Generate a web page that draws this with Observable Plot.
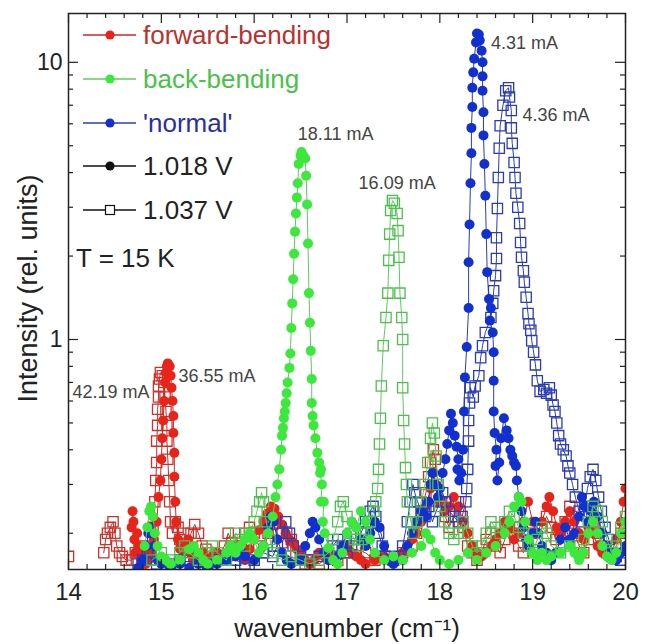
<!DOCTYPE html>
<html><head><meta charset="utf-8">
<script src="https://cdn.jsdelivr.net/npm/d3@7"></script>
<script src="https://cdn.jsdelivr.net/npm/@observablehq/plot@0.6"></script>
<style>body{margin:0;background:#fff;font-family:"Liberation Sans",Arial,sans-serif}</style>
</head><body><div id="chart"></div>
<script>
// forward-bending, 1.018 V (36.55 mA)
const fwd1018 = [[14.68,0.21],[14.69,0.24],[14.70,0.22],[14.71,0.19],[14.72,0.17],[14.74,0.2],[14.76,0.18],[14.78,0.16],[14.80,0.17],[14.83,0.155],[14.86,0.16],[14.89,0.17],[14.92,0.19],[14.95,0.22],[14.97,0.27],[14.99,0.31],[15.00,0.37],[15.01,0.44],[15.02,0.51],[15.03,0.60],[15.04,0.70],[15.05,0.76],[15.06,0.80],[15.07,0.82],[15.09,0.80],[15.10,0.74],[15.11,0.67],[15.12,0.60],[15.13,0.53],[15.13,0.46],[15.14,0.39],[15.14,0.32],[15.15,0.26],[15.16,0.22],[15.18,0.19],[15.2,0.176],[15.23,0.17],[15.26,0.18],[15.29,0.19],[15.31,0.17],[15.34,0.16],[15.37,0.17],[15.40,0.165],[15.45,0.17],[15.5,0.16],[15.55,0.165],[15.6,0.17],[15.65,0.16],[15.7,0.17],[15.75,0.165],[15.8,0.18],[15.85,0.17],[15.9,0.16],[15.95,0.175],[16.0,0.19],[16.05,0.205],[16.1,0.22],[16.14,0.235],[16.18,0.25],[16.22,0.245],[16.26,0.23],[16.3,0.215],[16.34,0.2],[16.38,0.19],[16.42,0.185],[16.46,0.175],[16.5,0.17],[16.55,0.16],[16.6,0.155],[16.65,0.16],[16.7,0.17],[16.75,0.165],[16.8,0.17],[16.85,0.16],[16.9,0.165],[16.95,0.17],[17.0,0.18],[17.05,0.17],[17.1,0.165],[17.15,0.16],[17.2,0.155],[17.3,0.16],[17.4,0.165],[17.5,0.16],[17.6,0.17],[17.7,0.19],[17.75,0.2],[17.8,0.22],[17.85,0.25],[17.9,0.29],[17.93,0.33],[17.96,0.3],[18.0,0.26],[18.05,0.24],[18.1,0.25],[18.15,0.27],[18.2,0.25],[18.25,0.22],[18.3,0.2],[18.35,0.18],[18.4,0.17],[18.45,0.165],[18.5,0.17],[18.55,0.18],[18.6,0.19],[18.65,0.2],[18.7,0.22],[18.75,0.21],[18.8,0.19],[18.85,0.2],[18.9,0.22],[18.95,0.26],[19.0,0.22],[19.05,0.2],[19.1,0.22],[19.15,0.25],[19.18,0.27],[19.22,0.24],[19.26,0.21],[19.3,0.2],[19.35,0.22],[19.4,0.24],[19.45,0.22],[19.5,0.2],[19.55,0.19],[19.6,0.21],[19.65,0.2],[19.7,0.18],[19.75,0.17],[19.8,0.18],[19.85,0.17],[19.9,0.19],[19.95,0.22],[19.98,0.26],[20.0,0.29]];
// forward-bending, 1.037 V (42.19 mA); null marks a gap in the trace
const fwd1037 = [[14.0,0.165],[14.2,null],[14.38,0.17],[14.4,0.19],[14.42,0.2],[14.45,0.21],[14.48,0.22],[14.5,0.2],[14.52,0.18],[14.55,0.17],[14.58,0.165],[14.62,0.16],[14.68,0.16],[14.72,0.17],[14.76,0.18],[14.8,0.17],[14.84,0.165],[14.88,0.18],[14.91,0.21],[14.93,0.26],[14.94,0.31],[14.95,0.36],[14.95,0.43],[14.96,0.49],[14.96,0.56],[14.97,0.62],[14.97,0.68],[14.98,0.72],[14.99,0.76],[15.01,0.74],[15.03,0.70],[15.04,0.62],[15.05,0.55],[15.06,0.49],[15.06,0.43],[15.07,0.37],[15.08,0.31],[15.09,0.26],[15.1,0.22],[15.12,0.2],[15.15,0.22],[15.18,0.21],[15.2,0.19],[15.24,0.2],[15.28,0.18],[15.32,0.2],[15.36,0.215],[15.4,0.2],[15.44,0.18],[15.48,0.175],[15.52,0.17],[15.56,0.16],[15.62,0.165],[15.68,0.18],[15.72,0.2],[15.76,0.185],[15.8,0.17],[15.86,0.18],[15.9,0.2],[15.95,0.21],[16.0,0.2],[16.05,0.18],[16.1,0.17],[16.15,0.2],[16.2,0.215],[16.25,0.2],[16.3,0.185],[16.35,0.2],[16.4,0.19],[16.45,0.17],[16.5,0.16],[16.55,0.155],[16.6,0.16],[16.7,0.155],[16.8,0.165],[16.9,0.16],[17.0,0.17],[17.1,0.175],[17.2,0.17],[17.3,0.16],[17.4,0.165],[17.5,0.16],[17.6,0.17],[17.7,0.18],[17.75,0.2],[17.8,0.24],[17.85,0.28],[17.88,0.32],[17.9,0.36],[17.93,0.4],[17.95,0.37],[17.98,0.3],[18.02,0.26],[18.06,0.23],[18.1,0.21],[18.15,0.23],[18.2,0.26],[18.22,0.24],[18.25,0.21],[18.3,0.18],[18.35,0.17],[18.4,0.16],[18.45,0.17],[18.5,0.19],[18.55,0.2],[18.6,0.18],[18.65,0.17],[18.7,0.19],[18.75,0.21],[18.8,0.2],[18.85,0.18],[18.9,0.17],[18.95,0.18],[19.0,0.2],[19.05,0.19],[19.1,0.21],[19.15,0.23],[19.2,0.21],[19.25,0.19],[19.3,0.2],[19.35,0.22],[19.4,0.25],[19.42,0.23],[19.45,0.2],[19.5,0.18],[19.55,0.17],[19.6,0.19],[19.65,0.22],[19.7,0.2],[19.75,0.18],[19.8,0.17],[19.85,0.165],[19.9,0.18],[19.95,0.2],[20.0,0.19]];
// back-bending, 1.018 V (18.11 mA)
const back1018 = [[14.82,0.18],[14.85,0.21],[14.87,0.24],[14.89,0.25],[14.91,0.23],[14.93,0.2],[14.96,0.18],[15.0,0.165],[15.05,0.16],[15.1,0.155],[15.2,0.16],[15.3,0.175],[15.35,0.18],[15.4,0.17],[15.45,0.16],[15.5,0.155],[15.6,0.16],[15.7,0.17],[15.75,0.18],[15.8,0.17],[15.85,0.18],[15.9,0.19],[15.95,0.2],[16.0,0.19],[16.05,0.17],[16.1,0.18],[16.15,0.2],[16.2,0.23],[16.23,0.27],[16.25,0.3],[16.27,0.34],[16.29,0.40],[16.3,0.45],[16.31,0.48],[16.32,0.52],[16.33,0.55],[16.34,0.59],[16.35,0.64],[16.36,0.70],[16.38,0.79],[16.39,0.89],[16.40,1.1],[16.41,1.35],[16.42,1.65],[16.43,2.04],[16.44,2.45],[16.45,2.85],[16.46,3.25],[16.47,3.66],[16.48,4.3],[16.5,4.6],[16.51,4.75],[16.53,4.6],[16.55,4.5],[16.56,3.9],[16.57,3.07],[16.58,2.22],[16.59,1.47],[16.6,1.15],[16.61,0.91],[16.62,0.72],[16.62,0.59],[16.63,0.53],[16.64,0.49],[16.66,0.44],[16.68,0.39],[16.7,0.36],[16.72,0.34],[16.71,0.33],[16.73,0.3],[16.72,0.26],[16.75,0.26],[16.74,0.22],[16.76,0.2],[16.8,0.177],[16.85,0.16],[16.9,0.155],[16.95,0.17],[17.0,0.2],[17.05,0.22],[17.1,0.21],[17.15,0.24],[17.2,0.22],[17.25,0.19],[17.3,0.17],[17.4,0.16],[17.5,0.165],[17.6,0.16],[17.7,0.17],[17.8,0.18],[17.85,0.2],[17.9,0.19],[17.95,0.17],[18.0,0.16],[18.1,0.155],[18.2,0.16],[18.3,0.17],[18.4,0.16],[18.5,0.17],[18.6,0.18],[18.7,0.2],[18.75,0.22],[18.8,0.25],[18.85,0.27],[18.88,0.26],[18.92,0.22],[18.96,0.19],[19.0,0.17],[19.05,0.16],[19.1,0.17],[19.15,0.16],[19.2,0.165],[19.3,0.17],[19.4,0.18],[19.45,0.17],[19.5,0.16],[19.55,0.17],[19.6,0.2],[19.65,0.22],[19.7,0.2],[19.75,0.18],[19.8,0.165],[19.85,0.16],[19.9,0.17],[19.95,0.2],[20.0,0.22]];
// back-bending, 1.037 V (16.09 mA)
const back1037 = [[14.9,0.16],[15.0,0.17],[15.1,0.16],[15.2,0.17],[15.25,0.18],[15.3,0.17],[15.4,0.16],[15.5,0.17],[15.55,0.18],[15.6,0.17],[15.7,0.16],[15.75,0.18],[15.8,0.2],[15.85,0.19],[15.9,0.18],[15.95,0.2],[16.0,0.22],[16.03,0.24],[16.06,0.26],[16.08,0.28],[16.1,0.26],[16.13,0.22],[16.17,0.19],[16.2,0.17],[16.3,0.16],[16.4,0.165],[16.5,0.16],[16.6,0.155],[16.7,0.16],[16.8,0.17],[16.85,0.19],[16.9,0.22],[16.93,0.25],[16.96,0.26],[17.0,0.23],[17.04,0.2],[17.08,0.19],[17.12,0.18],[17.16,0.19],[17.2,0.2],[17.25,0.22],[17.29,0.24],[17.31,0.26],[17.33,0.29],[17.34,0.34],[17.35,0.42],[17.36,0.52],[17.37,0.68],[17.39,0.95],[17.42,1.2],[17.44,1.47],[17.45,1.93],[17.46,2.4],[17.47,2.92],[17.49,3.17],[17.51,3.1],[17.54,2.85],[17.55,2.47],[17.56,1.98],[17.57,1.47],[17.59,1.2],[17.6,1.0],[17.6,0.67],[17.61,0.51],[17.62,0.42],[17.63,0.345],[17.64,0.3],[17.65,0.26],[17.69,0.22],[17.72,0.2],[17.76,0.22],[17.8,0.26],[17.84,0.3],[17.87,0.36],[17.9,0.44],[17.92,0.5],[17.94,0.46],[17.96,0.38],[17.98,0.3],[18.0,0.25],[18.05,0.22],[18.1,0.2],[18.15,0.19],[18.2,0.2],[18.25,0.22],[18.3,0.2],[18.35,0.18],[18.4,0.17],[18.45,0.18],[18.5,0.2],[18.55,0.22],[18.6,0.21],[18.65,0.2],[18.7,0.22],[18.75,0.24],[18.8,0.23],[18.85,0.21],[18.9,0.2],[18.95,0.18],[19.0,0.17],[19.05,0.19],[19.1,0.21],[19.15,0.2],[19.2,0.18],[19.3,0.17],[19.4,0.18],[19.5,0.17],[19.55,0.19],[19.6,0.22],[19.65,0.25],[19.7,0.24],[19.75,0.22],[19.8,0.19],[19.85,0.17],[19.9,0.18],[19.95,0.21],[20.0,0.23]];
// 'normal', 1.018 V (4.31 mA)
const norm1018 = [[14.75,0.15],[14.8,0.16],[14.84,0.18],[14.86,0.2],[14.88,0.21],[14.9,0.2],[14.93,0.18],[14.96,0.16],[15.0,0.155],[15.1,0.15],[15.2,0.155],[15.3,0.15],[15.4,0.155],[15.5,0.15],[15.6,0.155],[15.7,0.16],[15.8,0.165],[15.85,0.175],[15.9,0.165],[16.0,0.16],[16.1,0.18],[16.15,0.21],[16.18,0.23],[16.21,0.22],[16.25,0.19],[16.3,0.17],[16.35,0.16],[16.4,0.155],[16.5,0.16],[16.55,0.18],[16.6,0.2],[16.63,0.22],[16.66,0.21],[16.7,0.19],[16.75,0.17],[16.8,0.16],[16.9,0.165],[16.95,0.18],[17.0,0.2],[17.05,0.22],[17.1,0.21],[17.15,0.19],[17.2,0.18],[17.25,0.2],[17.3,0.22],[17.35,0.21],[17.4,0.18],[17.45,0.16],[17.5,0.155],[17.6,0.16],[17.65,0.18],[17.7,0.2],[17.75,0.22],[17.8,0.24],[17.85,0.23],[17.88,0.26],[17.9,0.3],[17.92,0.33],[17.95,0.3],[17.98,0.27],[18.0,0.29],[18.03,0.33],[18.06,0.37],[18.08,0.42],[18.1,0.47],[18.12,0.54],[18.14,0.5],[18.16,0.45],[18.18,0.41],[18.2,0.37],[18.19,0.34],[18.21,0.31],[18.23,0.33],[18.25,0.4],[18.26,0.55],[18.27,0.73],[18.29,0.94],[18.31,1.3],[18.31,1.9],[18.32,2.6],[18.33,3.66],[18.34,4.7],[18.34,5.8],[18.35,6.9],[18.35,8.1],[18.36,9.2],[18.37,10.3],[18.39,11.8],[18.40,12.7],[18.42,12.6],[18.43,12.0],[18.45,11.0],[18.46,10.0],[18.46,8.9],[18.46,7.9],[18.47,6.6],[18.47,5.45],[18.48,4.3],[18.49,3.3],[18.5,2.4],[18.51,1.75],[18.53,1.4],[18.55,1.3],[18.54,1.17],[18.57,1.06],[18.58,0.9],[18.58,0.71],[18.58,0.55],[18.59,0.46],[18.61,0.4],[18.6,0.35],[18.62,0.31],[18.64,0.36],[18.66,0.44],[18.69,0.52],[18.72,0.47],[18.74,0.44],[18.76,0.4],[18.78,0.38],[18.8,0.36],[18.82,0.35],[18.83,0.31],[18.85,0.27],[18.88,0.24],[18.9,0.21],[18.93,0.19],[18.96,0.18],[19.0,0.2],[19.03,0.22],[19.06,0.2],[19.1,0.18],[19.15,0.17],[19.2,0.16],[19.25,0.17],[19.3,0.19],[19.35,0.21],[19.4,0.19],[19.45,0.2],[19.5,0.23],[19.53,0.27],[19.56,0.25],[19.6,0.22],[19.63,0.24],[19.66,0.26],[19.7,0.23],[19.75,0.2],[19.8,0.18],[19.85,0.17],[19.9,0.16],[19.95,0.17],[20.0,0.18]];
// 'normal', 1.037 V (4.36 mA)
const norm1037 = [[14.75,0.155],[14.8,0.16],[14.85,0.17],[14.9,0.16],[14.95,0.155],[15.0,0.16],[15.1,0.155],[15.2,0.16],[15.3,0.165],[15.4,0.16],[15.5,0.155],[15.6,0.16],[15.7,0.165],[15.8,0.16],[15.9,0.155],[16.0,0.16],[16.1,0.17],[16.2,0.165],[16.25,0.18],[16.3,0.2],[16.34,0.22],[16.38,0.2],[16.42,0.18],[16.5,0.165],[16.6,0.16],[16.7,0.165],[16.8,0.17],[16.85,0.18],[16.9,0.19],[16.95,0.18],[17.0,0.17],[17.05,0.18],[17.1,0.19],[17.15,0.2],[17.2,0.22],[17.25,0.24],[17.28,0.25],[17.31,0.23],[17.34,0.2],[17.38,0.18],[17.42,0.165],[17.5,0.16],[17.55,0.165],[17.6,0.18],[17.65,0.22],[17.68,0.26],[17.71,0.3],[17.73,0.28],[17.76,0.26],[17.8,0.24],[17.84,0.23],[17.88,0.25],[17.92,0.22],[17.96,0.24],[18.0,0.26],[18.03,0.28],[18.06,0.26],[18.1,0.24],[18.15,0.23],[18.2,0.22],[18.24,0.23],[18.28,0.26],[18.29,0.29],[18.3,0.34],[18.31,0.43],[18.31,0.51],[18.32,0.59],[18.33,0.67],[18.36,0.62],[18.38,0.68],[18.42,0.74],[18.44,0.86],[18.46,0.95],[18.49,1.06],[18.55,1.2],[18.57,1.35],[18.58,1.5],[18.6,1.7],[18.61,1.96],[18.61,2.33],[18.62,2.97],[18.63,3.84],[18.64,4.9],[18.65,5.9],[18.68,7.0],[18.71,7.9],[18.74,8.1],[18.75,7.5],[18.77,6.7],[18.77,5.8],[18.78,5.1],[18.8,4.35],[18.81,3.84],[18.82,3.37],[18.84,3.0],[18.86,2.62],[18.87,2.24],[18.88,1.98],[18.9,1.77],[18.91,1.61],[18.93,1.42],[18.95,1.24],[18.96,1.14],[18.98,1.08],[18.99,0.99],[19.01,0.9],[19.03,0.81],[19.05,0.71],[19.08,0.65],[19.12,0.66],[19.15,0.64],[19.18,0.67],[19.2,0.63],[19.22,0.58],[19.24,0.55],[19.26,0.5],[19.28,0.45],[19.3,0.42],[19.33,0.4],[19.36,0.38],[19.38,0.35],[19.4,0.33],[19.43,0.3],[19.46,0.27],[19.5,0.24],[19.53,0.22],[19.56,0.25],[19.59,0.29],[19.62,0.32],[19.65,0.34],[19.68,0.31],[19.71,0.27],[19.74,0.24],[19.78,0.21],[19.82,0.19],[19.86,0.17],[19.9,0.165],[19.95,0.16],[20.0,0.17]];

const seriesNames = ["forward-bending", "back-bending", "'normal'"];
const voltages = ["1.018 V", "1.037 V"];
const xMajorTicks = [14, 15, 16, 17, 18, 19, 20];
const xMinorTicks = [14.2, 14.4, 14.6, 14.8, 15.2, 15.4, 15.6, 15.8, 16.2, 16.4, 16.6, 16.8, 17.2, 17.4, 17.6, 17.8, 18.2, 18.4, 18.6, 18.8, 19.2, 19.4, 19.6, 19.8];
const yMajorTicks = [1, 10];
const yMinorTicks = [0.2, 0.3, 0.4, 0.5, 0.6, 0.7, 0.8, 0.9, 2, 3, 4, 5, 6, 7, 8, 9];
const annLabels = ["4.31 mA", "4.36 mA", "18.11 mA", "16.09 mA", "36.55 mA", "42.19 mA"];
const annX = [18.55, 18.89, 16.47, 17.125, 15.185, 14.043];
const annY = [11.7, 6.44, 5.5, 3.66, 0.735, 0.644];

const colors = {
  "forward-bending": {line: "#c92a22", fill: "#e8241a", open: "#d0302a", text: "#b8322e"},
  "back-bending": {line: "#5ccc5c", fill: "#3be83b", open: "#4cc04c", text: "#4cbf4c"},
  "'normal'": {line: "#2a3cb8", fill: "#1230d0", open: "#2a3cb4", text: "#2b2f9e"}
};

const W = 647, H = 644, mL = 68, mR = 22, mT = 13, mB = 75;
const innerW = W - mL - mR, innerH = H - mT - mB;

const toRows = arr => arr.map(([x, y]) => ({x, y}));
const sets = [
  {name: seriesNames[0], v: voltages[1], data: toRows(fwd1037)},
  {name: seriesNames[0], v: voltages[0], data: toRows(fwd1018)},
  {name: seriesNames[2], v: voltages[1], data: toRows(norm1037)},
  {name: seriesNames[2], v: voltages[0], data: toRows(norm1018)},
  {name: seriesNames[1], v: voltages[1], data: toRows(back1037)},
  {name: seriesNames[1], v: voltages[0], data: toRows(back1018)}
];

const marks = [];
for (const s of sets) {
  const c = colors[s.name];
  marks.push(Plot.line(s.data, {x: "x", y: "y", stroke: c.line, strokeWidth: 1, curve: "linear", clip: true}));
  if (s.v === voltages[0]) {
    marks.push(Plot.dot(s.data, {x: "x", y: "y", r: 5, fill: c.fill, stroke: "none", clip: true}));
  } else {
    marks.push(Plot.dot(s.data, {x: "x", y: "y", r: 5.8, symbol: "square", fill: "none", stroke: c.open, strokeWidth: 1.3, clip: true}));
  }
}

const annotations = annLabels.map((t, i) => ({t, x: annX[i], y: annY[i]}));
marks.push(Plot.text(annotations, {x: "x", y: "y", text: "t", textAnchor: "start", fontSize: 18, fill: "#444"}));

// inward ticks
marks.push(Plot.ruleX(xMajorTicks, {x: d => d, insetTop: innerH - 10, stroke: "#222", strokeWidth: 1.2}));
marks.push(Plot.ruleX(xMajorTicks, {x: d => d, insetBottom: innerH - 10, stroke: "#222", strokeWidth: 1.2}));
marks.push(Plot.ruleX(xMinorTicks, {x: d => d, insetTop: innerH - 5, stroke: "#222", strokeWidth: 1.2}));
marks.push(Plot.ruleX(xMinorTicks, {x: d => d, insetBottom: innerH - 5, stroke: "#222", strokeWidth: 1.2}));
marks.push(Plot.ruleY(yMajorTicks, {y: d => d, insetRight: innerW - 10, stroke: "#222", strokeWidth: 1.2}));
marks.push(Plot.ruleY(yMajorTicks, {y: d => d, insetLeft: innerW - 10, stroke: "#222", strokeWidth: 1.2}));
marks.push(Plot.ruleY(yMinorTicks, {y: d => d, insetRight: innerW - 5, stroke: "#222", strokeWidth: 1.2}));
marks.push(Plot.ruleY(yMinorTicks, {y: d => d, insetLeft: innerW - 5, stroke: "#222", strokeWidth: 1.2}));
marks.push(Plot.frame({stroke: "#222", strokeWidth: 1.5}));

marks.push(Plot.axisX({ticks: xMajorTicks, tickSize: 0, tickPadding: 13, fontSize: 24, tickFormat: d => String(d), label: null}));
marks.push(Plot.axisY({ticks: yMajorTicks, tickSize: 0, tickPadding: 6, fontSize: 23, tickFormat: d => String(d), label: null}));
marks.push(Plot.text(["wavenumber (cm⁻¹)"], {frameAnchor: "bottom", textAnchor: "middle", lineAnchor: "middle", dy: 59, text: d => d, fontSize: 26, fill: "#222"}));
marks.push(Plot.text(["Intensity (rel. units)"], {frameAnchor: "left", textAnchor: "middle", lineAnchor: "middle", dx: -40, dy: -3, rotate: -90, text: d => d, fontSize: 27, fill: "#222"}));

const chart = Plot.plot({
  width: W, height: H,
  marginLeft: mL, marginRight: mR, marginTop: mT, marginBottom: mB,
  style: {fontFamily: "'Liberation Sans', Arial, sans-serif", color: "#222", background: "#fff"},
  x: {domain: [14, 20]},
  y: {type: "log", domain: [0.148, 15]},
  marks
});
document.getElementById("chart").appendChild(chart);

// legend (inside the frame, top-left)
const svg = d3.select(chart);
const lg = svg.append("g").attr("font-family", "'Liberation Sans', Arial, sans-serif").attr("font-size", 26).attr("text-anchor", "start");
const legendItems = [
  {label: seriesNames[0], color: colors[seriesNames[0]].text, line: colors[seriesNames[0]].line, mark: "dot", mfill: colors[seriesNames[0]].fill},
  {label: seriesNames[1], color: colors[seriesNames[1]].text, line: colors[seriesNames[1]].line, mark: "dot", mfill: colors[seriesNames[1]].fill},
  {label: seriesNames[2], color: colors[seriesNames[2]].text, line: colors[seriesNames[2]].line, mark: "dot", mfill: colors[seriesNames[2]].fill},
  {label: voltages[0], color: "#222", line: "#111", mark: "dot", mfill: "#111"},
  {label: voltages[1], color: "#222", line: "#111", mark: "square", mfill: "none"}
];
const rowY = [35, 79, 123, 166, 210];
legendItems.forEach((it, i) => {
  const y = rowY[i];
  lg.append("line").attr("x1", 83).attr("x2", 136).attr("y1", y).attr("y2", y).attr("stroke", it.line).attr("stroke-width", 1.3);
  if (it.mark === "dot") lg.append("circle").attr("cx", 110).attr("cy", y).attr("r", 4.6).attr("fill", it.mfill);
  else lg.append("rect").attr("x", 105.5).attr("y", y - 4.5).attr("width", 9).attr("height", 9).attr("fill", "#fff").attr("stroke", "#111").attr("stroke-width", 1.2);
  lg.append("text").attr("x", 143).attr("y", y).attr("dy", "0.36em").attr("fill", it.color).text(it.label);
});
lg.append("text").attr("x", 76).attr("y", 258).attr("dy", "0.36em").attr("fill", "#222").text("T = 15 K");
</script>
</body></html>
